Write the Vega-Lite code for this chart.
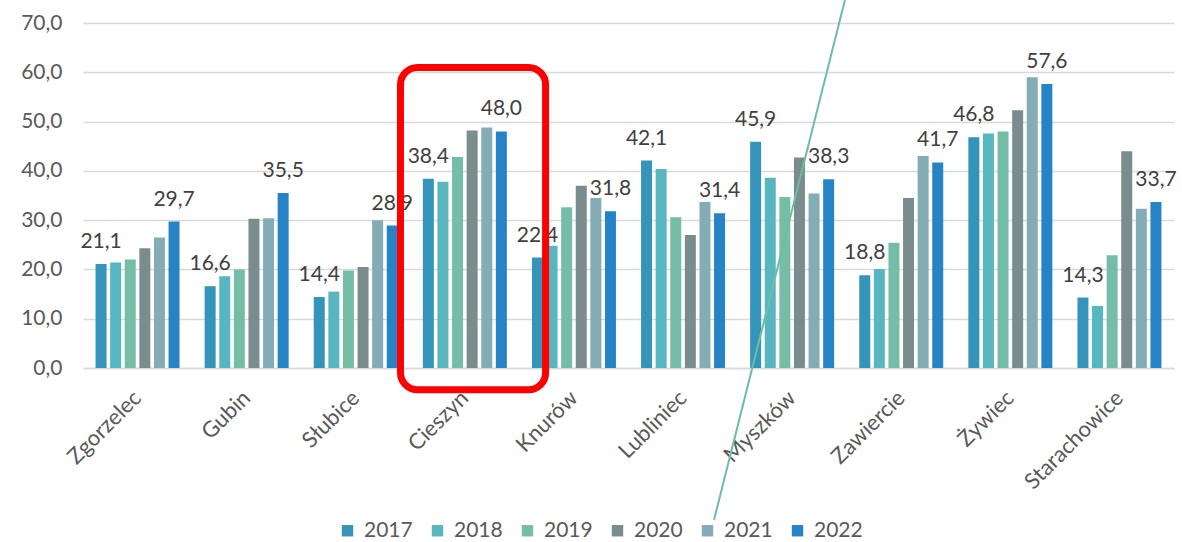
{
  "$schema": "https://vega.github.io/schema/vega-lite/v6.json",
  "width": 1091,
  "height": 345,
  "autosize": {"type": "none"},
  "padding": {"left": 83, "top": 23, "right": 8, "bottom": 174},
  "background": "white",
  "config": {
    "locale": {"number": {"decimal": ",", "thousands": " ", "grouping": [3], "currency": ["", " zł"]}},
    "font": "Lato",
    "view": {"stroke": null}
  },
  "datasets": {
    "bars": [
      {"city": "Zgorzelec", "year": "2017", "value": 21.1},
      {"city": "Zgorzelec", "year": "2018", "value": 21.4},
      {"city": "Zgorzelec", "year": "2019", "value": 22.0},
      {"city": "Zgorzelec", "year": "2020", "value": 24.3},
      {"city": "Zgorzelec", "year": "2021", "value": 26.5},
      {"city": "Zgorzelec", "year": "2022", "value": 29.7},
      {"city": "Gubin", "year": "2017", "value": 16.6},
      {"city": "Gubin", "year": "2018", "value": 18.6},
      {"city": "Gubin", "year": "2019", "value": 20.0},
      {"city": "Gubin", "year": "2020", "value": 30.3},
      {"city": "Gubin", "year": "2021", "value": 30.4},
      {"city": "Gubin", "year": "2022", "value": 35.5},
      {"city": "Słubice", "year": "2017", "value": 14.4},
      {"city": "Słubice", "year": "2018", "value": 15.5},
      {"city": "Słubice", "year": "2019", "value": 19.8},
      {"city": "Słubice", "year": "2020", "value": 20.5},
      {"city": "Słubice", "year": "2021", "value": 30.0},
      {"city": "Słubice", "year": "2022", "value": 28.9},
      {"city": "Cieszyn", "year": "2017", "value": 38.4},
      {"city": "Cieszyn", "year": "2018", "value": 37.8},
      {"city": "Cieszyn", "year": "2019", "value": 42.8},
      {"city": "Cieszyn", "year": "2020", "value": 48.2},
      {"city": "Cieszyn", "year": "2021", "value": 48.8},
      {"city": "Cieszyn", "year": "2022", "value": 48.0},
      {"city": "Knurów", "year": "2017", "value": 22.4},
      {"city": "Knurów", "year": "2018", "value": 24.8},
      {"city": "Knurów", "year": "2019", "value": 32.6},
      {"city": "Knurów", "year": "2020", "value": 37.0},
      {"city": "Knurów", "year": "2021", "value": 34.5},
      {"city": "Knurów", "year": "2022", "value": 31.8},
      {"city": "Lubliniec", "year": "2017", "value": 42.1},
      {"city": "Lubliniec", "year": "2018", "value": 40.4},
      {"city": "Lubliniec", "year": "2019", "value": 30.6},
      {"city": "Lubliniec", "year": "2020", "value": 27.0},
      {"city": "Lubliniec", "year": "2021", "value": 33.7},
      {"city": "Lubliniec", "year": "2022", "value": 31.4},
      {"city": "Myszków", "year": "2017", "value": 45.9},
      {"city": "Myszków", "year": "2018", "value": 38.6},
      {"city": "Myszków", "year": "2019", "value": 34.7},
      {"city": "Myszków", "year": "2020", "value": 42.7},
      {"city": "Myszków", "year": "2021", "value": 35.4},
      {"city": "Myszków", "year": "2022", "value": 38.3},
      {"city": "Zawiercie", "year": "2017", "value": 18.8},
      {"city": "Zawiercie", "year": "2018", "value": 20.1},
      {"city": "Zawiercie", "year": "2019", "value": 25.4},
      {"city": "Zawiercie", "year": "2020", "value": 34.5},
      {"city": "Zawiercie", "year": "2021", "value": 43.0},
      {"city": "Zawiercie", "year": "2022", "value": 41.7},
      {"city": "Żywiec", "year": "2017", "value": 46.8},
      {"city": "Żywiec", "year": "2018", "value": 47.6},
      {"city": "Żywiec", "year": "2019", "value": 48.0},
      {"city": "Żywiec", "year": "2020", "value": 52.3},
      {"city": "Żywiec", "year": "2021", "value": 59.0},
      {"city": "Żywiec", "year": "2022", "value": 57.6},
      {"city": "Starachowice", "year": "2017", "value": 14.3},
      {"city": "Starachowice", "year": "2018", "value": 12.6},
      {"city": "Starachowice", "year": "2019", "value": 22.9},
      {"city": "Starachowice", "year": "2020", "value": 44.0},
      {"city": "Starachowice", "year": "2021", "value": 32.3},
      {"city": "Starachowice", "year": "2022", "value": 33.7}
    ],
    "box": [{"x1": 2.91, "x2": 4.24, "y1": 60.95, "y2": -4.4}],
    "stroke": [{"lx": 6.984, "ly": 74.66}, {"lx": 5.784, "ly": -30.8}]
  },
  "layer": [
    {
      "data": {"name": "bars"},
      "encoding": {
        "x": {
          "field": "city", "type": "nominal", "sort": null, "title": null,
          "scale": {"paddingInner": 0.23, "paddingOuter": 0.115},
          "axis": {
            "labelAngle": -45, "labelAlign": "right", "labelBaseline": "middle",
            "labelFontSize": 22, "labelColor": "#595959", "labelPadding": 26,
            "ticks": false, "domain": true, "domainColor": "#D9D9D9", "domainWidth": 1.5,
            "grid": false, "labelFont": "Lato"
          }
        },
        "xOffset": {
          "field": "year", "type": "nominal",
          "scale": {"domain": ["2017", "2018", "2019", "2020", "2021", "2022"], "paddingInner": 0.247, "paddingOuter": 0}
        },
        "y": {
          "field": "value", "type": "quantitative", "title": null,
          "scale": {"domain": [0, 70], "nice": false},
          "axis": {
            "values": [0, 10, 20, 30, 40, 50, 60, 70], "format": ".1f",
            "labelFontSize": 21, "labelColor": "#595959", "labelPadding": 21,
            "ticks": false, "domain": false, "gridColor": "#D9D9D9", "gridWidth": 1.5,
            "labelFont": "Lato"
          }
        }
      },
      "layer": [
        {
          "mark": {"type": "bar", "clip": false},
          "encoding": {
            "color": {
              "field": "year", "type": "nominal", "title": null,
              "scale": {
                "domain": ["2017", "2018", "2019", "2020", "2021", "2022"],
                "range": ["#3494BA", "#58B6C0", "#75BDA7", "#7A8C8E", "#84ACB6", "#2683C6"]
              },
              "legend": {
                "orient": "none", "direction": "horizontal", "legendX": 254, "legendY": 497,
                "symbolType": "square", "symbolSize": 130, "symbolStrokeWidth": 0,
                "labelFontSize": 21, "labelColor": "#595959", "labelFont": "Lato",
                "labelOffset": 6, "columnPadding": 14
              }
            }
          }
        },
        {
          "transform": [{"filter": "datum.year == '2017' || datum.year == '2022'"}],
          "mark": {"type": "text", "baseline": "alphabetic", "align": "center", "dy": -16, "fontSize": 21, "color": "#404040", "font": "Lato"},
          "encoding": {
            "text": {"field": "value", "type": "quantitative", "format": ".1f"}
          }
        }
      ]
    },
    {
      "data": {"name": "box"},
      "mark": {"type": "rect", "fill": null, "filled": false, "stroke": "#FF0000", "strokeWidth": 7, "cornerRadius": 17, "clip": false},
      "encoding": {
        "x": {"field": "x1", "type": "quantitative", "scale": {"domain": [0, 10], "nice": false, "zero": false}, "axis": null},
        "x2": {"field": "x2"},
        "y": {"field": "y1", "type": "quantitative", "scale": {"domain": [0, 70], "nice": false}, "axis": null},
        "y2": {"field": "y2"}
      }
    },
    {
      "data": {"name": "stroke"},
      "mark": {"type": "line", "stroke": "#6DBE9F", "strokeWidth": 2, "clip": false},
      "encoding": {
        "x": {"field": "lx", "type": "quantitative", "scale": {"domain": [0, 10], "nice": false, "zero": false}, "axis": null},
        "y": {"field": "ly", "type": "quantitative", "scale": {"domain": [0, 70], "nice": false}, "axis": null}
      }
    }
  ],
  "resolve": {"scale": {"x": "independent", "y": "independent"}}
}
